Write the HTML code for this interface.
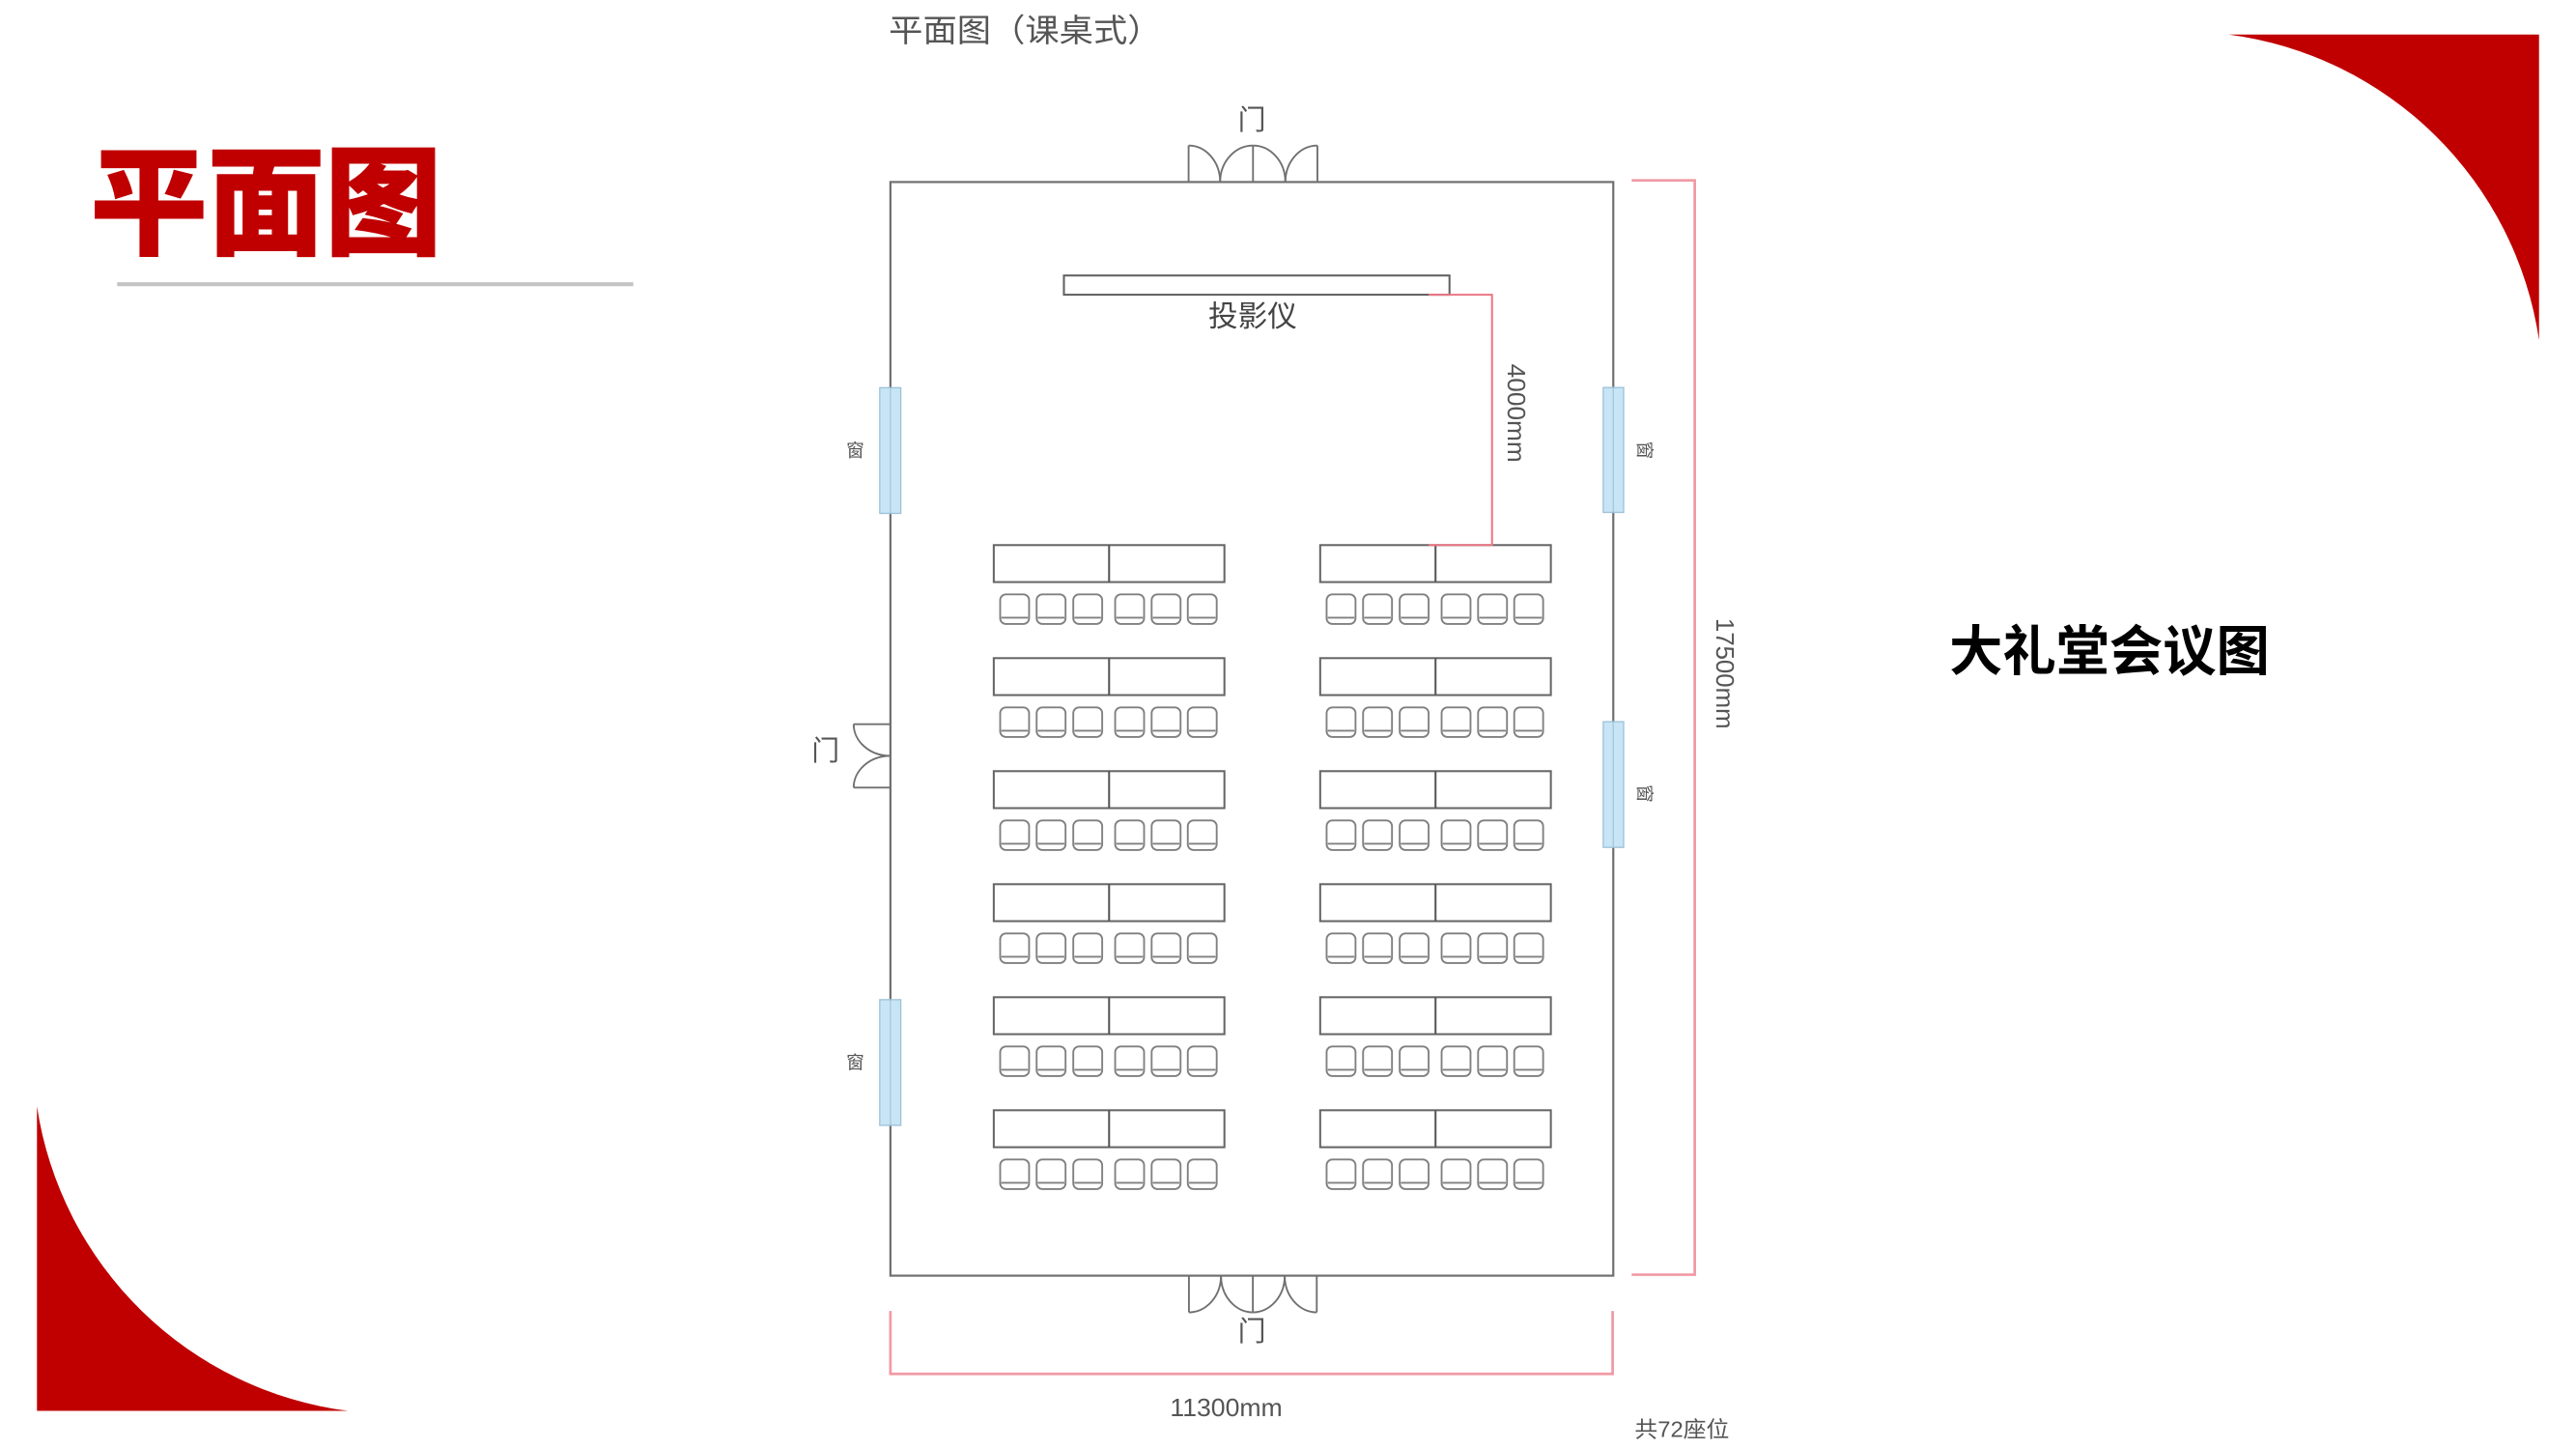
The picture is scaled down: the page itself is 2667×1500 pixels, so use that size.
<!DOCTYPE html>
<html>
<head>
<meta charset="utf-8">
<style>
html,body{margin:0;padding:0;background:#fff;overflow:hidden;}
svg{display:block;}
</style>
</head>
<body>
<svg xmlns="http://www.w3.org/2000/svg" xmlns:xlink="http://www.w3.org/1999/xlink" width="2667" height="1500" viewBox="0 0 1568 882" preserveAspectRatio="none">
  <defs>
    <g id="row">
      <rect x="0" y="0" width="140.4" height="22.5" fill="none" stroke="#666" stroke-width="1.2"/>
      <line x1="70.2" y1="0" x2="70.2" y2="22.5" stroke="#555" stroke-width="1.2"/>
      <g fill="none" stroke="#808080" stroke-width="1.1">
        <rect x="3.9" y="30" width="17.6" height="18" rx="3.5"/>
        <line x1="4.6" y1="44.2" x2="20.8" y2="44.2"/>
        <rect x="26.1" y="30" width="17.6" height="18" rx="3.5"/>
        <line x1="26.8" y1="44.2" x2="43" y2="44.2"/>
        <rect x="48.4" y="30" width="17.6" height="18" rx="3.5"/>
        <line x1="49.1" y1="44.2" x2="65.3" y2="44.2"/>
        <rect x="73.9" y="30" width="17.6" height="18" rx="3.5"/>
        <line x1="74.6" y1="44.2" x2="90.8" y2="44.2"/>
        <rect x="96.1" y="30" width="17.6" height="18" rx="3.5"/>
        <line x1="96.8" y1="44.2" x2="113" y2="44.2"/>
        <rect x="118.1" y="30" width="17.6" height="18" rx="3.5"/>
        <line x1="118.8" y1="44.2" x2="135" y2="44.2"/>
      </g>
    </g>
  </defs>

  <rect x="0" y="0" width="1568" height="882" fill="#fff"/>

  <!-- red decorative corners -->
  <path d="M1356.5,21 A220,220 0 0 1 1545.5,207 L1545.5,21 Z" fill="#c00000"/>
  <path d="M22.5,673.5 A220,220 0 0 0 211.8,858.8 L22.5,858.8 Z" fill="#c00000"/>

  <!-- Title -->
  <text x="55" y="124.5" dominant-baseline="central" font-family="'Liberation Sans','Noto Sans CJK SC',sans-serif" font-size="72" font-weight="900" fill="#c00000" stroke="#c00000" stroke-width="0.6" textLength="214" lengthAdjust="spacingAndGlyphs">平面图</text>
  <rect x="71.3" y="171.8" width="314.2" height="2.4" fill="#c3c3c3"/>

  <!-- right label -->
  <text x="1186.5" y="396.7" dominant-baseline="central" font-family="'Liberation Sans','Noto Sans CJK SC',sans-serif" font-size="33" font-weight="700" fill="#000" textLength="195" lengthAdjust="spacingAndGlyphs">大礼堂会议图</text>

  <!-- subtitle -->
  <text x="541" y="19" dominant-baseline="central" font-family="'Liberation Sans','Noto Sans CJK SC',sans-serif" font-size="19.5" fill="#555" textLength="166" lengthAdjust="spacingAndGlyphs">平面图（课桌式）</text>

  <!-- room walls -->
  <rect x="542" y="110.8" width="440" height="665.7" fill="none" stroke="#707070" stroke-width="1.3"/>

  <!-- windows -->
  <g fill="#c7e5f4" stroke="#9fc3da" stroke-width="0.8">
    <rect x="535.5" y="236" width="12.8" height="76.5"/>
    <rect x="535.5" y="608.5" width="12.8" height="76.5"/>
    <rect x="975.9" y="235.9" width="12.4" height="76"/>
    <rect x="975.9" y="439.3" width="12.4" height="76.5"/>
  </g>
  <g stroke="#8fb8cf" stroke-width="0.8" opacity="0.6">
    <line x1="542" y1="236" x2="542" y2="312.5"/>
    <line x1="542" y1="608.5" x2="542" y2="685"/>
    <line x1="982" y1="235.9" x2="982" y2="311.9"/>
    <line x1="982" y1="439.3" x2="982" y2="515.8"/>
  </g>

  <!-- doors -->
  <g fill="none" stroke="#707070" stroke-width="1.1">
    <!-- top -->
    <line x1="723.5" y1="88.6" x2="723.5" y2="110.8"/>
    <line x1="762.7" y1="88.6" x2="762.7" y2="110.8"/>
    <line x1="801.9" y1="88.6" x2="801.9" y2="110.8"/>
    <path d="M723.5,88.6 A19.2,22.2 0 0 1 742.7,110.8"/>
    <path d="M762.7,88.6 A20,22.2 0 0 0 742.7,110.8"/>
    <path d="M762.7,88.6 A19.7,22.2 0 0 1 782.4,110.8"/>
    <path d="M801.9,88.6 A19.5,22.2 0 0 0 782.4,110.8"/>
    <!-- bottom -->
    <line x1="723.7" y1="776.5" x2="723.7" y2="798.8"/>
    <line x1="762.6" y1="776.5" x2="762.6" y2="798.8"/>
    <line x1="801.5" y1="776.5" x2="801.5" y2="798.8"/>
    <path d="M723.7,798.8 A19.5,22.3 0 0 0 743.2,776.5"/>
    <path d="M762.6,798.8 A19.4,22.3 0 0 1 743.2,776.5"/>
    <path d="M762.6,798.8 A19.4,22.3 0 0 0 782,776.5"/>
    <path d="M801.5,798.8 A19.5,22.3 0 0 1 782,776.5"/>
    <!-- left -->
    <line x1="519.6" y1="440.8" x2="542" y2="440.8"/>
    <line x1="519.6" y1="479.4" x2="542" y2="479.4"/>
    <path d="M519.6,440.8 A22.4,19.3 0 0 0 542,460.1"/>
    <path d="M519.6,479.4 A22.4,19.3 0 0 1 542,460.1"/>
  </g>

  <!-- projector -->
  <rect x="647.6" y="167.7" width="234.7" height="11.7" fill="none" stroke="#606060" stroke-width="1.2"/>
  <text x="735.5" y="193" dominant-baseline="central" font-family="'Liberation Sans','Noto Sans CJK SC',sans-serif" font-size="18" fill="#444" textLength="54" lengthAdjust="spacingAndGlyphs">投影仪</text>

  <!-- tables & chairs -->
  <use xlink:href="#row" href="#row" x="604.9" y="331.8"/>
  <use xlink:href="#row" href="#row" x="604.9" y="400.6"/>
  <use xlink:href="#row" href="#row" x="604.9" y="469.4"/>
  <use xlink:href="#row" href="#row" x="604.9" y="538.2"/>
  <use xlink:href="#row" href="#row" x="604.9" y="607"/>
  <use xlink:href="#row" href="#row" x="604.9" y="675.8"/>
  <use xlink:href="#row" href="#row" x="803.6" y="331.8"/>
  <use xlink:href="#row" href="#row" x="803.6" y="400.6"/>
  <use xlink:href="#row" href="#row" x="803.6" y="469.4"/>
  <use xlink:href="#row" href="#row" x="803.6" y="538.2"/>
  <use xlink:href="#row" href="#row" x="803.6" y="607"/>
  <use xlink:href="#row" href="#row" x="803.6" y="675.8"/>

  <!-- dimension lines -->
  <polyline points="869.6,179.4 908.2,179.4 908.2,331.8 869.6,331.8" fill="none" stroke="#ec7683" stroke-width="1.2"/>
  <polyline points="993.2,109.8 1031.6,109.8 1031.6,775.9 993.2,775.9" fill="none" stroke="#f09aa5" stroke-width="1.6"/>
  <polyline points="542,798 542,836.3 981.6,836.3 981.6,798" fill="none" stroke="#f09aa5" stroke-width="1.6"/>

  <!-- labels -->
  <g font-family="'Liberation Sans','Noto Sans CJK SC',sans-serif" fill="#555" dominant-baseline="central">
    <text x="762" y="73.4" font-size="17" text-anchor="middle">门</text>
    <text x="762" y="811" font-size="17" text-anchor="middle">门</text>
    <text x="502.5" y="457.4" font-size="17" text-anchor="middle">门</text>
    <text x="520.6" y="274.3" font-size="11" text-anchor="middle">窗</text>
    <text x="520.6" y="646.8" font-size="11" text-anchor="middle">窗</text>
    <text x="1000.8" y="274" font-size="11" text-anchor="middle" transform="rotate(90 1000.8 274)">窗</text>
    <text x="1000.8" y="483" font-size="11" text-anchor="middle" transform="rotate(90 1000.8 483)">窗</text>
    <text x="922.5" y="251.5" font-size="15" text-anchor="middle" textLength="60" lengthAdjust="spacingAndGlyphs" transform="rotate(90 922.5 251.5)">4000mm</text>
    <text x="1049.3" y="410" font-size="15" text-anchor="middle" textLength="67.5" lengthAdjust="spacingAndGlyphs" transform="rotate(90 1049.3 410)">17500mm</text>
    <text x="746.4" y="857.4" font-size="15" text-anchor="middle" textLength="68.4" lengthAdjust="spacingAndGlyphs">11300mm</text>
    <text x="1023.8" y="870" font-size="13.5" text-anchor="middle" textLength="57.6" lengthAdjust="spacingAndGlyphs">共72座位</text>
  </g>
</svg>
</body>
</html>
